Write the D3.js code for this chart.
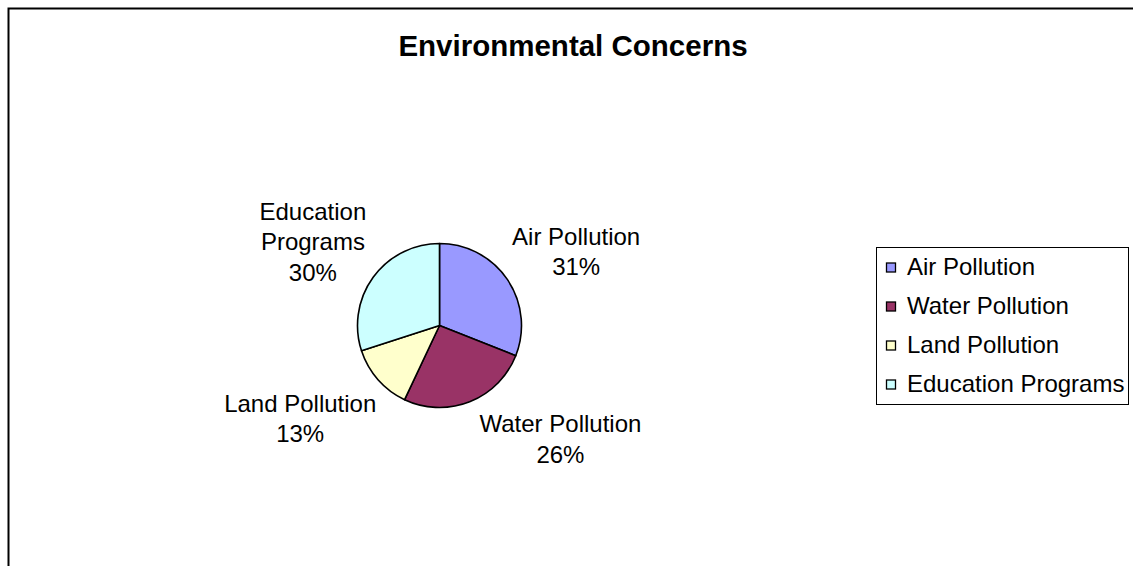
<!DOCTYPE html>
<html>
<head>
<meta charset="utf-8">
<script src="https://cdn.jsdelivr.net/npm/d3@7"></script>
<style>
  html, body { margin: 0; padding: 0; background: #fff; }
  svg { display: block; font-family: "Liberation Sans", Arial, sans-serif; }
</style>
</head>
<body>
<svg id="chart" width="1133" height="566"></svg>
<script>
// Survey shares of environmental concerns
const categories = ["Air Pollution", "Water Pollution", "Land Pollution", "Education Programs"];
const shares = [31, 26, 13, 30];
const sliceColors = ["#9999FF", "#993366", "#FFFFCC", "#CCFFFF"];
// Data labels, one array of lines per slice
const labelLines = [
  ["Air Pollution", "31%"],
  ["Water Pollution", "26%"],
  ["Land Pollution", "13%"],
  ["Education", "Programs", "30%"]
];

const svg = d3.select("#chart");

// Chart frame
svg.append("rect")
  .attr("x", 8.5).attr("y", 8.5)
  .attr("width", 1200).attr("height", 700)
  .attr("fill", "#fff")
  .attr("stroke", "#000").attr("stroke-width", 2);

// Title
svg.append("text")
  .attr("x", 573).attr("y", 56)
  .attr("text-anchor", "middle")
  .attr("font-size", 29.5).attr("font-weight", "bold")
  .text("Environmental Concerns");

// Pie
const cx = 439.5, cy = 325.5, r = 82;
const pie = d3.pie().sort(null).value(d => d)(shares);
const arc = d3.arc().innerRadius(0).outerRadius(r);
const color = d3.scaleOrdinal().domain(categories).range(sliceColors);

const g = svg.append("g").attr("transform", `translate(${cx},${cy})`);
g.selectAll("path")
  .data(pie)
  .join("path")
  .attr("d", arc)
  .attr("fill", (d, i) => color(categories[i]))
  .attr("stroke", "#000")
  .attr("stroke-width", 1.6)
  .attr("stroke-linejoin", "round");

// Data labels placed outside each slice along its mid-angle
const lineH = 30.5;
const labelArc = d3.arc().innerRadius(r * 1.72).outerRadius(r * 1.72);
const labelAdjust = [[20, 6], [69, -17], [-33.5, 0], [-12.5, -0.5]];
pie.forEach((d, i) => {
  const [lx, ly] = labelArc.centroid(d);
  const lines = labelLines[i];
  const x = cx + lx + labelAdjust[i][0];
  const yMid = cy + ly + labelAdjust[i][1];
  const t = svg.append("text")
    .attr("text-anchor", "middle")
    .attr("font-size", 24)
    .attr("fill", "#000");
  lines.forEach((s, k) => {
    t.append("tspan")
      .attr("x", x)
      .attr("y", yMid + (k - (lines.length - 1) / 2) * lineH + 8)
      .text(s);
  });
});

// Legend
const legend = svg.append("g");
legend.append("rect")
  .attr("x", 876.5).attr("y", 247.5)
  .attr("width", 252).attr("height", 157)
  .attr("fill", "#fff")
  .attr("stroke", "#000").attr("stroke-width", 1);

const rowY = d3.scalePoint().domain(categories).range([275, 392]);
const items = legend.selectAll("g.item")
  .data(categories)
  .join("g")
  .attr("class", "item")
  .attr("transform", d => `translate(0,${rowY(d)})`);
items.append("rect")
  .attr("x", 886.5).attr("y", -12)
  .attr("width", 9).attr("height", 9)
  .attr("fill", d => color(d))
  .attr("stroke", "#000").attr("stroke-width", 1.3);
items.append("text")
  .attr("x", 907).attr("y", 0)
  .attr("font-size", 24)
  .text(d => d);
</script>
</body>
</html>
